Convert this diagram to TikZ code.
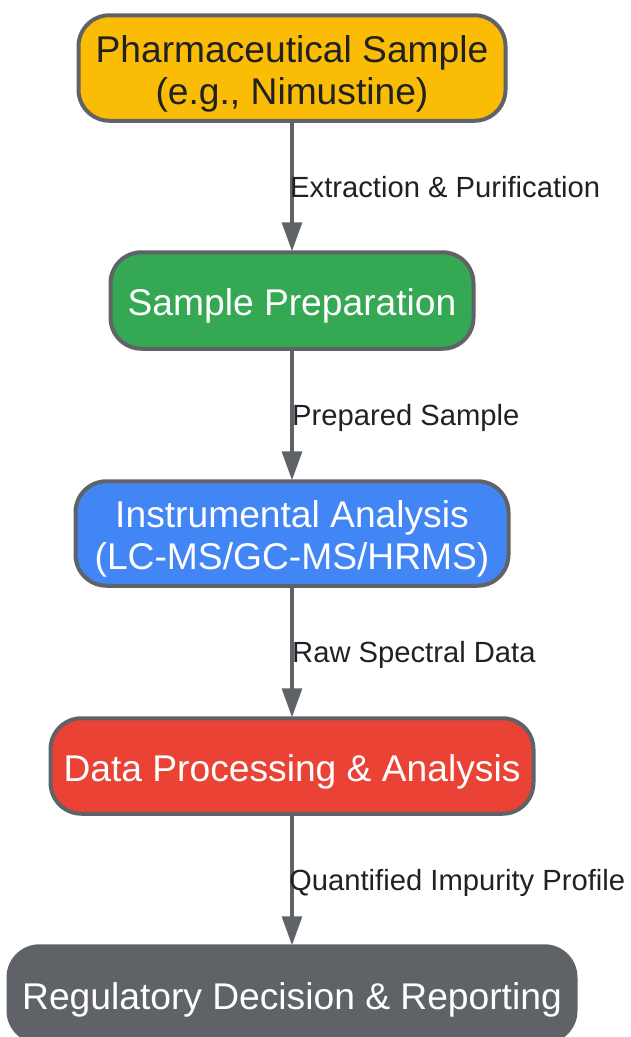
\documentclass[tikz,border=0pt]{standalone}
\usepackage{fontspec}
\setmainfont{Liberation Sans}
\usetikzlibrary{arrows.meta}
\definecolor{edgegrey}{HTML}{5F6368}
\definecolor{inkdark}{HTML}{202124}
\definecolor{cyellow}{HTML}{FBBC05}
\definecolor{cgreen}{HTML}{34A853}
\definecolor{cblue}{HTML}{4285F4}
\definecolor{cred}{HTML}{EA4335}
\tikzset{
  box/.style={draw=edgegrey,line width=4pt,rounded corners=31pt,inner sep=0pt},
  boxtext/.style={align=center,inner sep=0pt,yshift=-5.8pt,font=\fontsize{37.2}{42}\selectfont,text=white},
  link/.style={draw=edgegrey,line width=3.2pt,-{Triangle[length=29pt,width=20pt]},shorten >=-1pt},
  lab/.style={font=\fontsize{29.2}{33}\selectfont,text=inkdark,inner sep=0pt,anchor=west}
}
\begin{document}
\begin{tikzpicture}[x=1pt,y=-1pt]
\useasboundingbox (0,0) rectangle (630,1037);
\node[box,fill=cyellow,minimum width=427pt,minimum height=105.5pt,label={[boxtext,text=inkdark]center:Pharmaceutical Sample\\(e.g., Nimustine)}] (a) at (292,68) {};
\node[box,fill=cgreen,minimum width=363pt,minimum height=96.5pt,label={[boxtext]center:Sample Preparation}] (b) at (292,300.5) {};
\node[box,fill=cblue,minimum width=433pt,minimum height=104.5pt,label={[boxtext]center:Instrumental Analysis\\(LC-MS/GC-MS/HRMS)}] (c) at (292,533.5) {};
\node[box,fill=cred,minimum width=483pt,minimum height=95.5pt,label={[boxtext]center:Data Processing \& Analysis}] (d) at (292,766) {};
\node[box,fill=edgegrey,minimum width=567pt,minimum height=95.5pt,label={[boxtext]center:Regulatory Decision \& Reporting}] (e) at (292,994) {};
\draw[link] (a) -- (b);
\draw[link] (b) -- (c);
\draw[link] (c) -- (d);
\draw[link] (d) -- (e);
\node[lab] (la) at (290,187) {Extraction \& Purification};
\node[lab] (lb) at (292,417.5) {Prepared Sample};
\node[lab] (lc) at (292,654.5) {Raw Spectral Data};
\node[lab] (ld) at (289,882.5) {Quantified Impurity Profile};
\end{tikzpicture}
\end{document}
